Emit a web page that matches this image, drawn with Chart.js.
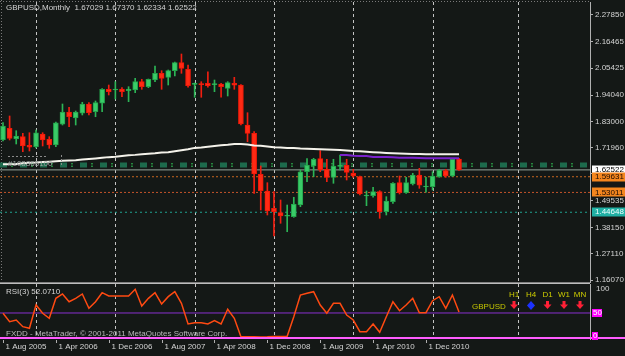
<!DOCTYPE html>
<html><head><meta charset="utf-8">
<script src="https://cdn.jsdelivr.net/npm/chart.js@4.4.1/dist/chart.umd.min.js"></script>
<style>
html,body{margin:0;padding:0;background:#141816;overflow:hidden;width:625px;height:356px}
canvas{position:absolute;left:0;display:block}
#main{top:0}
#rsi{top:284px}
</style></head><body>
<canvas id="main" width="625" height="284"></canvas>
<canvas id="rsi" width="625" height="72"></canvas>
<script>
// ---------- DATA ----------
const monthLabels = [
 'Aug 2005','Sep 2005','Oct 2005','Nov 2005','Dec 2005',
 'Jan 2006','Feb 2006','Mar 2006','Apr 2006','May 2006','Jun 2006','Jul 2006','Aug 2006','Sep 2006','Oct 2006','Nov 2006','Dec 2006',
 'Jan 2007','Feb 2007','Mar 2007','Apr 2007','May 2007','Jun 2007','Jul 2007','Aug 2007','Sep 2007','Oct 2007','Nov 2007','Dec 2007',
 'Jan 2008','Feb 2008','Mar 2008','Apr 2008','May 2008','Jun 2008','Jul 2008','Aug 2008','Sep 2008','Oct 2008','Nov 2008','Dec 2008',
 'Jan 2009','Feb 2009','Mar 2009','Apr 2009','May 2009','Jun 2009','Jul 2009','Aug 2009','Sep 2009','Oct 2009','Nov 2009','Dec 2009',
 'Jan 2010','Feb 2010','Mar 2010','Apr 2010','May 2010','Jun 2010','Jul 2010','Aug 2010','Sep 2010','Oct 2010','Nov 2010','Dec 2010',
 'Jan 2011','Feb 2011','Mar 2011','Apr 2011','May 2011'];

const opens = [1.7513,1.8006,1.7555,1.7652,1.7289,1.7230,1.7766,1.7542,1.7302,1.8175,
 1.8694,1.8440,1.8639,1.9031,1.8706,1.9070,1.9651,1.9621,1.9664,1.9592,
 1.9621,1.9972,1.9761,2.0043,2.0326,2.0157,2.0436,2.0773,2.0495,1.9862,
 1.9874,1.9904,1.9845,1.9874,1.9693,1.9904,1.9832,1.8145,1.7795,1.6066,
 1.5361,1.4632,1.4446,1.4298,1.4277,1.4771,1.6175,1.6416,1.6724,1.6277,
 1.5939,1.6403,1.6445,1.6108,1.5965,1.5151,1.5163,1.5332,1.4488,1.4911,
 1.5712,1.5290,1.5657,1.6037,1.5530,1.5543,1.5965,1.6218,1.5994,1.67029];
const highs = [1.8250,1.8525,1.7905,1.7795,1.7820,1.7934,1.7820,1.7652,1.8272,1.9031,
 1.8892,1.8736,1.9103,1.9086,1.9158,1.9685,1.9832,1.9972,1.9719,1.9761,
 2.0115,2.0073,2.0085,2.0634,2.0436,2.0465,2.0802,2.1140,2.0676,1.9917,
 1.9972,2.0393,2.0043,1.9904,1.9972,2.0157,1.9850,1.8664,1.7863,1.6416,
 1.5712,1.5332,1.4982,1.4771,1.5096,1.6247,1.6724,1.6741,1.7062,1.6699,
 1.6699,1.6880,1.6699,1.6277,1.5994,1.5362,1.5517,1.5374,1.5121,1.5712,
 1.5994,1.5939,1.6108,1.6319,1.5939,1.6175,1.6277,1.6277,1.6741,1.67370];
const lows = [1.7470,1.7513,1.7344,1.7019,1.7048,1.7175,1.7260,1.7162,1.7230,1.8145,
 1.8074,1.8145,1.8567,1.8567,1.8495,1.8706,1.9411,1.9242,1.9339,1.9128,
 1.9508,1.9651,1.9719,1.9972,1.9651,1.9832,2.0212,2.0326,1.9736,1.9314,
 1.9314,1.9736,1.9550,1.9314,1.9369,1.9651,1.8145,1.7441,1.5264,1.4560,
 1.4349,1.3463,1.3999,1.3644,1.4252,1.4699,1.5754,1.5965,1.6175,1.5754,
 1.5686,1.6247,1.5825,1.5939,1.5193,1.4743,1.5096,1.4210,1.4349,1.4835,
 1.5235,1.5264,1.5615,1.5475,1.5307,1.5404,1.5939,1.5939,1.5965,1.62334];
const closes = [1.8100,1.7584,1.7681,1.7260,1.7205,1.7820,1.7513,1.7302,1.8242,1.8694,
 1.8495,1.8694,1.9031,1.8664,1.9086,1.9651,1.9550,1.9651,1.9550,1.9664,
 1.9972,1.9761,2.0073,2.0326,2.0115,2.0436,2.0773,2.0537,1.9803,1.9887,
 1.9845,1.9803,1.9874,1.9761,1.9930,1.9820,1.8187,1.7795,1.6079,1.5374,
 1.4518,1.4488,1.4307,1.4328,1.4813,1.6175,1.6458,1.6699,1.6247,1.5939,
 1.6416,1.6428,1.6150,1.5994,1.5235,1.5180,1.5332,1.4488,1.4940,1.5687,
 1.5290,1.5712,1.6037,1.5605,1.5560,1.5994,1.6247,1.5994,1.6699,1.62522];

// long moving average (white) and purple average, read per bar
const maValues = [1.6488,1.6490,1.6500,1.6530,1.6550,1.6560,1.6580,1.6600,1.6615,1.6635,
 1.6650,1.6660,1.6690,1.6710,1.6735,1.6760,1.6790,1.6810,1.6840,1.6870,
 1.6885,1.6910,1.6930,1.6950,1.6985,1.7000,1.7040,1.7080,1.7120,1.7180,
 1.7200,1.7230,1.7260,1.7290,1.7310,1.7340,1.7345,1.7320,1.7280,1.7270,
 1.7240,1.7210,1.7200,1.7180,1.7170,1.7150,1.7140,1.7130,1.7120,1.7110,
 1.7100,1.7090,1.7070,1.7050,1.7040,1.7020,1.7000,1.6985,1.6965,1.6950,
 1.6940,1.6930,1.6922,1.6918,1.6915,1.6912,1.6910,1.6910,1.6910,1.6910];
const purpleStart = 51;
const purpleValues = [1.6880,1.6875,1.6845,1.6838,1.6835,1.6800,1.6796,1.6792,1.6790,1.6768,
 1.6765,1.6762,1.6758,1.6745,1.6742,1.6741,1.6740,1.6740,1.6738];

// RSI(3)
const rsiValues = [49.4,31.9,35.4,21.5,18.1,66.7,49.4,39.0,80.6,89.6,
 73.5,80.6,89.6,59.8,73.5,92.3,85.4,85.4,85.4,85.4,
 99.4,64.6,80.6,92.3,68.8,84.0,94.4,70.2,27.1,29.8,
 29.8,27.1,34.0,27.1,57.7,39.0,0.6,0.5,0.4,0.2,
 0.3,1.0,0.8,1.5,42.0,87.5,91.0,94.4,66.7,49.4,
 70.2,70.2,45.8,35.4,11.0,11.0,27.1,9.8,42.3,73.5,
 54.8,66.7,80.6,50.6,50.6,75.6,84.0,59.8,87.5,52.0710];

// price axis ticks
const priceTicks = [2.27850,2.16465,2.05425,1.94040,1.83000,1.71960,1.60920,1.49535,1.38150,1.27110,1.16070];
// horizontal levels
const bidLevel = 1.62522;
const orangeLevels = [1.59631, 1.53011];
const tealLevel = 1.44648;
const greenBand = [1.6508, 1.6458, 1.6407];
// date axis labels
const dateTickLabels = ['1 Aug 2005','1 Apr 2006','1 Dec 2006','1 Aug 2007','1 Apr 2008','1 Dec 2008','1 Aug 2009','1 Apr 2010','1 Dec 2010'];
const gridIdx = [5,17,29,41,53,65,78];
const tfLabels = ['H1','H4','D1','W1','MN'];
const tfSignals = ['down','flat','down','down','down'];

// ---------- STYLE ----------
const FONT = '8px "Liberation Sans", Arial, sans-serif';
const TXT = '#d4d4d4';
const X_MIN = -0.454, X_MAX = 88.82;
const Y_MIN = 1.152294, Y_MAX = 2.333334;
const R_MIN = -4.17, R_MAX = 110.42;
const N = monthLabels.length;
const isBull = closes.map((c,i)=> c >= opens[i]);

function hLine(v, color, width, dash, order){
  return {type:'line', data:[{x:X_MIN,y:v},{x:X_MAX,y:v}], borderColor:color, borderWidth:width,
    borderDash:dash||[], pointRadius:0, order:order, tension:0};
}

function drawGrid(chart){
  const {ctx, chartArea:a, scales:{x}} = chart;
  ctx.save();
  ctx.strokeStyle = '#c4c4c4'; ctx.lineWidth = 1; ctx.setLineDash([3,3]);
  gridIdx.forEach(g=>{
    const px = Math.round(x.getPixelForValue(g)) + 0.5;
    ctx.beginPath(); ctx.moveTo(px, a.top); ctx.lineTo(px, a.bottom); ctx.stroke();
  });
  ctx.restore();
}

const mainDeco = {
  id:'mainDeco',
  beforeDatasetsDraw(chart){
    const {ctx, chartArea:a} = chart;
    ctx.save();
    ctx.strokeStyle = '#7a7a7a'; ctx.setLineDash([1,2]); ctx.lineWidth = 1;
    ctx.beginPath(); ctx.moveTo(0, 1.5); ctx.lineTo(a.right, 1.5); ctx.stroke();
    ctx.beginPath(); ctx.moveTo(1.5, 0); ctx.lineTo(1.5, a.bottom); ctx.stroke();
    ctx.restore();
    drawGrid(chart);
  },
  afterDraw(chart){
    const {ctx, chartArea:a, scales:{y}} = chart;
    ctx.save();
    ctx.font = FONT; ctx.textBaseline = 'middle';
    ctx.fillStyle = TXT;
    const last = N-1;
    ctx.fillText('GBPUSD,Monthly  ' + [opens[last],highs[last],lows[last],closes[last]].map(v=>v.toFixed(5)).join(' '), 6, 8);
    ctx.fillStyle = '#9aa3a0';
    ctx.fillText('#103865100', 8, 163.5);
    ctx.strokeStyle = '#8a8a8a'; ctx.setLineDash([2,2]);
    ctx.beginPath(); ctx.moveTo(8, 156.5); ctx.lineTo(48, 156.5); ctx.stroke();
    ctx.beginPath(); ctx.moveTo(61.5, 155); ctx.lineTo(61.5, 165); ctx.stroke();
    ctx.setLineDash([]);
    const boxes = [
      {v:bidLevel, bg:'#ffffff', fg:'#000000'},
      {v:orangeLevels[0], bg:'#f4861e', fg:'#1a0a00'},
      {v:orangeLevels[1], bg:'#f4861e', fg:'#1a0a00'},
      {v:tealLevel, bg:'#20b0a4', fg:'#f0ffff'}
    ];
    boxes.forEach(b=>{
      const py = y.getPixelForValue(b.v);
      ctx.fillStyle = b.bg;
      ctx.fillRect(a.right+2, Math.round(py)-4.5, 625-a.right-2, 9);
      ctx.fillStyle = b.fg;
      ctx.fillText(b.v.toFixed(5), a.right+5, py);
    });
    ctx.fillStyle = '#808080'; ctx.fillRect(0, 282, a.right, 1);
    ctx.fillStyle = '#bdbdbd'; ctx.fillRect(0, 283, a.right, 1);
    ctx.restore();
  }
};

const mainChart = new Chart(document.getElementById('main'), {
  type:'line',
  data:{datasets:[
    {type:'line', data:maValues.map((v,i)=>({x:i,y:v})), borderColor:'#f4f2ea', borderWidth:2, pointRadius:0, tension:0, order:0},
    {type:'line', data:purpleValues.map((v,k)=>({x:purpleStart+k,y:v})), borderColor:'#7b22cc', borderWidth:2, pointRadius:0, tension:0, order:0},
    {type:'bar', data:opens.map((o,i)=>({x:i, y:[Math.min(o,closes[i]), Math.max(o,closes[i])]})),
      backgroundColor:isBull.map(b=>b?'#3acb68':'#ff2a14'), borderColor:isBull.map(b=>b?'#22a44a':'#f01808'),
      borderWidth:1, borderSkipped:false, barThickness:5, grouped:false, minBarLength:1, order:1},
    {type:'bar', data:lows.map((l,i)=>({x:i, y:[l, highs[i]]})),
      backgroundColor:isBull.map(b=>b?'#2cb556':'#f01e10'), borderWidth:0, barThickness:1, grouped:false, order:2},
    hLine(greenBand[1], '#1d6a4c', 5, [7,13], 3),
    hLine(greenBand[0], '#30b852', 1, [7,4,2,7], 3),
    hLine(greenBand[2], '#30b852', 1, [7,4,2,7], 3),
    hLine(bidLevel, '#95a19a', 1, [], 3),
    hLine(orangeLevels[0], '#c8661e', 1, [2,2], 3),
    hLine(orangeLevels[1], '#c4542a', 1, [2,2], 3),
    hLine(tealLevel, '#1fa08e', 1, [2,3], 3)
  ]},
  options:{
    responsive:false, animation:false, devicePixelRatio:1,
    layout:{padding:{top:2,bottom:2,left:0,right:0}},
    plugins:{legend:{display:false}, tooltip:{enabled:false}},
    scales:{
      x:{type:'linear', min:X_MIN, max:X_MAX, display:false, offset:false},
      y:{type:'linear', position:'right', min:Y_MIN, max:Y_MAX,
        afterFit:s=>{s.width=35; s.paddingTop=0; s.paddingBottom=0;},
        afterBuildTicks:s=>{s.ticks = priceTicks.map(v=>({value:v}));},
        ticks:{callback:v=>Number(v).toFixed(5), color:TXT, font:{family:'"Liberation Sans", Arial, sans-serif', size:8}, padding:2, autoSkip:false},
        grid:{drawOnChartArea:false, color:'#b0b0b0', tickLength:3},
        border:{color:'#b0b0b0'}}
    }
  },
  plugins:[mainDeco]
});

function downArrow(ctx, cx, cy, color){
  ctx.fillStyle = color;
  ctx.fillRect(cx-1.5, cy-4, 3, 4);
  ctx.beginPath(); ctx.moveTo(cx-4, cy-0.5); ctx.lineTo(cx+4, cy-0.5); ctx.lineTo(cx, cy+4); ctx.closePath(); ctx.fill();
}

const rsiDeco = {
  id:'rsiDeco',
  beforeDatasetsDraw(chart){ drawGrid(chart); },
  afterDraw(chart){
    const {ctx, chartArea:a, scales:{x,y}} = chart;
    ctx.save();
    ctx.font = FONT; ctx.textBaseline = 'middle';
    const pinkY = y.getPixelForValue(-2.8);
    ctx.fillStyle = '#ff5cff'; ctx.fillRect(0, Math.round(pinkY)-1, 625, 2);
    ctx.fillStyle = TXT;
    ctx.fillText('RSI(3) ' + rsiValues[N-1].toFixed(4), 6, 8);
    ctx.fillStyle = '#b8b8b8';
    ctx.fillText('FXDD - MetaTrader, \u00a9 2001-2011 MetaQuotes Software Corp.', 6, 50);
    ctx.fillStyle = TXT;
    ctx.fillText('100', a.right+6, y.getPixelForValue(100));
    const y50 = y.getPixelForValue(50);
    ctx.fillStyle = '#ff00ff'; ctx.fillRect(a.right+2, Math.round(y50)-4, 10, 8);
    ctx.fillStyle = '#ffffff'; ctx.fillText('50', a.right+3, y50);
    const y0 = y.getPixelForValue(0);
    ctx.fillStyle = '#ff00ff'; ctx.fillRect(a.right+2, Math.round(y0)-5, 6, 8);
    ctx.fillStyle = '#ffffff'; ctx.fillText('0', a.right+3, y0-1);
    ctx.fillStyle = '#c4c400';
    ctx.fillText('GBPUSD', 472, 22.5);
    const tfX = [514, 531, 547.5, 564, 580];
    tfLabels.forEach((t,k)=>{
      ctx.fillStyle = '#cccc00'; ctx.textAlign = 'center';
      ctx.fillText(t, tfX[k], 10.5);
      if (tfSignals[k]==='down') downArrow(ctx, tfX[k], 21, '#ff2036');
      else {
        ctx.fillStyle = '#1c32ff';
        ctx.beginPath(); ctx.moveTo(tfX[k], 17); ctx.lineTo(tfX[k]+4, 21.5); ctx.lineTo(tfX[k], 26); ctx.lineTo(tfX[k]-4, 21.5); ctx.closePath(); ctx.fill();
      }
    });
    ctx.textAlign = 'left';
    ctx.fillStyle = TXT; ctx.strokeStyle = '#b0b0b0'; ctx.lineWidth = 1;
    dateTickLabels.forEach(lbl=>{
      const idx = monthLabels.indexOf(lbl.slice(2));
      const px = Math.round(x.getPixelForValue(idx));
      ctx.beginPath(); ctx.moveTo(px+0.5, a.bottom+1); ctx.lineTo(px+0.5, a.bottom+4); ctx.stroke();
      ctx.fillText(lbl, Math.max(px+2.5, 3), 63);
    });
    ctx.restore();
  }
};

const rsiChart = new Chart(document.getElementById('rsi'), {
  type:'line',
  data:{datasets:[
    {data:rsiValues.map((v,i)=>({x:i,y:v})), borderColor:'#ff4a12', borderWidth:1.5, pointRadius:0, tension:0, order:0},
    hLine(50, '#8a30d0', 1, [], 1)
  ]},
  options:{
    responsive:false, animation:false, devicePixelRatio:1,
    layout:{padding:{top:0,bottom:17,left:0,right:0}},
    plugins:{legend:{display:false}, tooltip:{enabled:false}},
    scales:{
      x:{type:'linear', min:X_MIN, max:X_MAX, display:false, offset:false},
      y:{type:'linear', position:'right', min:R_MIN, max:R_MAX,
        afterFit:s=>{s.width=35; s.paddingTop=0; s.paddingBottom=0;},
        ticks:{display:false}, grid:{drawOnChartArea:false, drawTicks:false},
        border:{color:'#b0b0b0'}}
    }
  },
  plugins:[rsiDeco]
});
</script>
</body></html>
